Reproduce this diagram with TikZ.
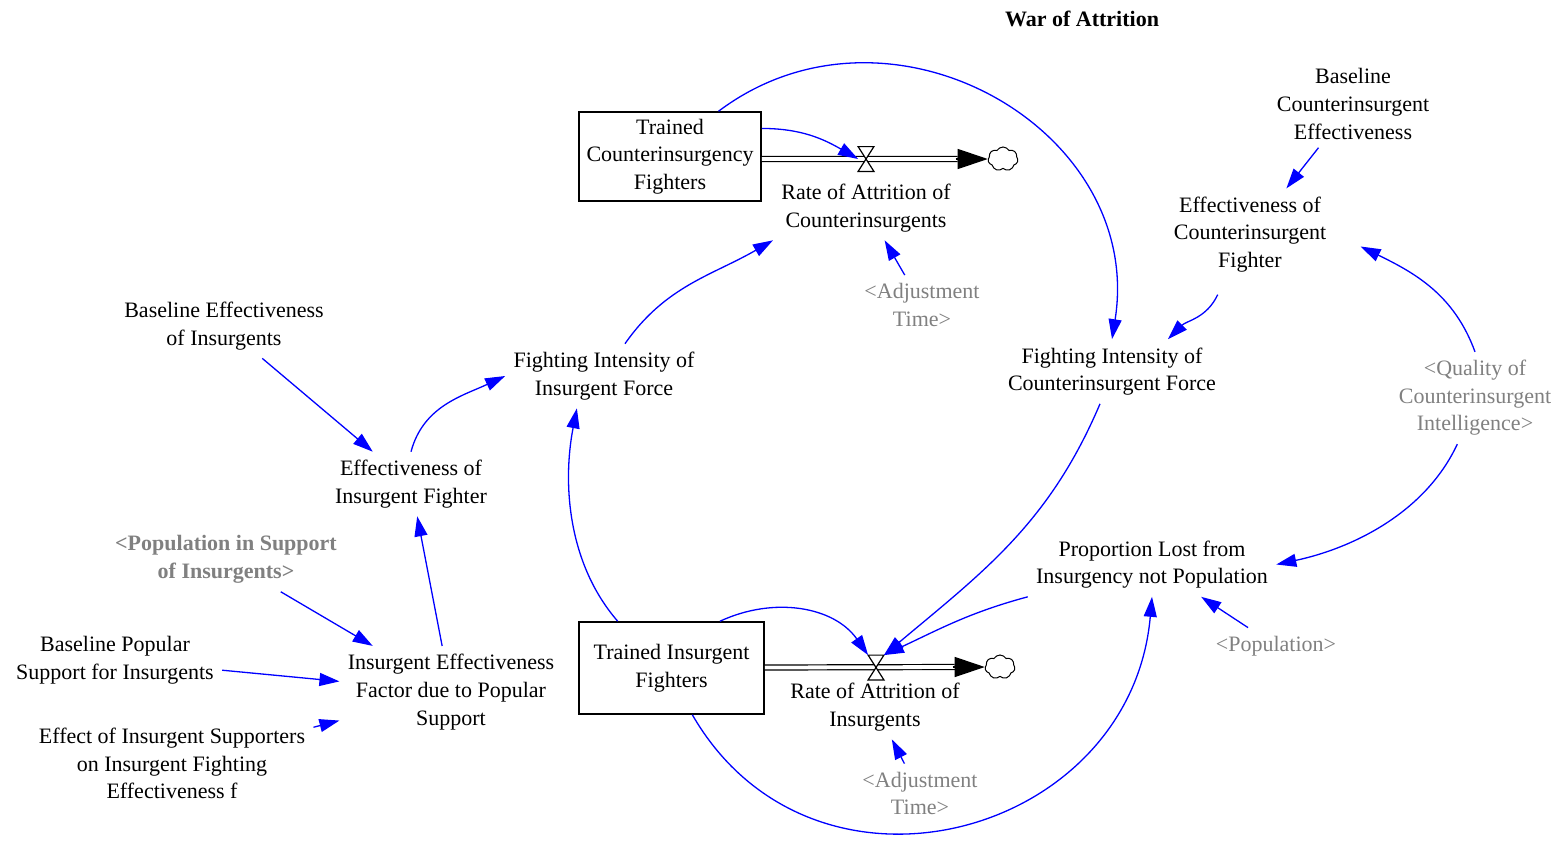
\documentclass[tikz,border=0pt]{standalone}
\usepackage{fontspec}
\setmainfont{Liberation Serif}
\usetikzlibrary{arrows.meta,shapes.symbols}
\definecolor{linkblue}{RGB}{0,0,255}
\definecolor{shadowgray}{RGB}{128,128,128}

\begin{document}
\begin{tikzpicture}[
    x=0.5pt, y=0.5pt,
    font=\fontsize{11}{13.8}\selectfont,
    var/.style={align=center, inner sep=4pt},
    shadow/.style={var, text=shadowgray},
    stock/.style={draw, rectangle, line width=0.75pt, align=center, inner sep=0pt},
    valve/.style={inner sep=0pt, minimum width=7.5pt, minimum height=12pt},
    bowtie/.style={line width=0.6pt, fill=white},
    sink/.style={cloud, draw, cloud puffs=7, cloud puff arc=120, aspect=1.2, inner sep=0pt, minimum width=15pt, minimum height=12pt, line width=0.5pt},
    link/.style={draw=linkblue, line width=0.65pt, -{Triangle[length=10pt,width=6.5pt]}},
    pipe/.style={double distance=1.9pt, line width=0.6pt},
    outflow/.style={line width=0.6pt, -{Triangle[length=15pt,width=10pt]}}
  ]
  \useasboundingbox (0,0) rectangle (1561,-841);

  \node[font=\fontsize{11}{13.8}\selectfont\bfseries] (title) at (1082,-19) {War of Attrition};

  % Stocks, valves and clouds
  \node[stock, minimum width=91pt, minimum height=44.5pt] (stockC) at (670,-156.5) {Trained\\Counterinsurgency\\Fighters};
  \node[stock, minimum width=92.5pt, minimum height=46pt] (stockI) at (671.5,-668) {Trained Insurgent\\Fighters};
  \node[valve] (valveC) at (866,-159) {};
  \node[valve] (valveI) at (876,-667.5) {};
  \node[sink] (cloudC) at (1003,-159) {};
  \node[sink] (cloudI) at (1000,-667) {};

  % Variables
  \node[var] (rateC) at (866,-208) {Rate of Attrition of\\Counterinsurgents};
  \node[var] (rateI) at (875,-707) {Rate of Attrition of\\Insurgents};
  \node[shadow] (adjC) at (922,-305) {<Adjustment\\Time>};
  \node[shadow] (adjI) at (920,-793.5) {<Adjustment\\Time>};
  \node[var] (baseCE) at (1353,-104) {Baseline\\Counterinsurgent\\Effectiveness};
  \node[var] (effCF) at (1250,-234.5) {Effectiveness of\\Counterinsurgent\\Fighter};
  \node[var] (fiCF) at (1112,-371.5) {Fighting Intensity of\\Counterinsurgent Force};
  \node[shadow] (quality) at (1475,-398) {<Quality of\\Counterinsurgent\\Intelligence>};
  \node[var] (propLost) at (1152,-564.5) {Proportion Lost from\\Insurgency not Population};
  \node[shadow] (population) at (1276,-646) {<Population>};
  \node[var] (baseEI) at (224,-326) {Baseline Effectiveness\\of Insurgents};
  \node[var] (effIF) at (411,-484) {Effectiveness of\\Insurgent Fighter};
  \node[var] (fiIF) at (604,-376) {Fighting Intensity of\\Insurgent Force};
  \node[shadow, font=\fontsize{11}{13.8}\selectfont\bfseries] (popSupp) at (226,-559.5) {<Population in Support\\of Insurgents>};
  \node[var] (ieff) at (451,-692) {Insurgent Effectiveness\\Factor due to Popular\\Support};
  \node[var] (basePop) at (115,-660) {Baseline Popular\\Support for Insurgents};
  \node[var] (effSup) at (172,-763.5) {Effect of Insurgent Supporters\\on Insurgent Fighting\\Effectiveness f};

  % Flows
  \draw[pipe] (stockC.east |- valveC) -- ([xshift=-15pt]cloudC.west);
  \draw[outflow] ([xshift=-16pt]cloudC.west) -- (cloudC.west);
  \draw[pipe] (stockI.east |- valveI) -- ([xshift=-15pt]cloudI.west);
  \draw[outflow] ([xshift=-16pt]cloudI.west) -- (cloudI.west);
  \draw[bowtie] (valveC.north west) -- (valveC.north east) -- (valveC.south west) -- (valveC.south east) -- cycle;
  \draw[bowtie] (valveI.north west) -- (valveI.north east) -- (valveI.south west) -- (valveI.south east) -- cycle;

  % Links
  \draw[link] (stockC.43) to[out=37, in=81, looseness=1.2] (fiCF.north);
  \draw[link] (stockC.17) to[out=0, in=150] (valveC.west);
  \draw[link] (fiIF.57) to[out=55, in=210] (rateC.south west);
  \draw[link] (quality.north) to[out=110, in=-26] ([xshift=13pt,yshift=-6pt]effCF.east);
  \draw[link] ([yshift=-7pt]effCF.235) to[out=-115, in=45] (fiCF.30);
  \draw[link] (baseCE) -- (effCF);
  \draw[link] ([xshift=-6pt]fiCF.south) to[out=-113, in=40] (valveI.north east);
  \draw[link] (propLost.south west) to[out=195, in=25] (valveI.north east);
  \draw[link] (stockI.44) to[out=25, in=125] (valveI.north west);
  \draw[link] (stockI.-66) to[out=-60, in=-95, looseness=1.3] (propLost.south);
  \draw[link] (stockI.139) to[out=131, in=259, looseness=0.9] (fiIF.230);
  \draw[link] (quality.249) to[out=245, in=12, looseness=0.9] (propLost.east);
  \draw[link] (population) -- (propLost);
  \draw[link] (baseEI) -- (effIF);
  \draw[link] (effIF.north) to[out=75, in=205] (fiIF.west);
  \draw[link] (ieff) -- (effIF);
  \draw[link] (popSupp) -- (ieff);
  \draw[link] (basePop) -- (ieff);
  \draw[link] (effSup) -- (ieff);
  \draw[link] (adjC) -- (rateC);
  \draw[link] (adjI) -- (rateI);

\end{tikzpicture}
\end{document}
